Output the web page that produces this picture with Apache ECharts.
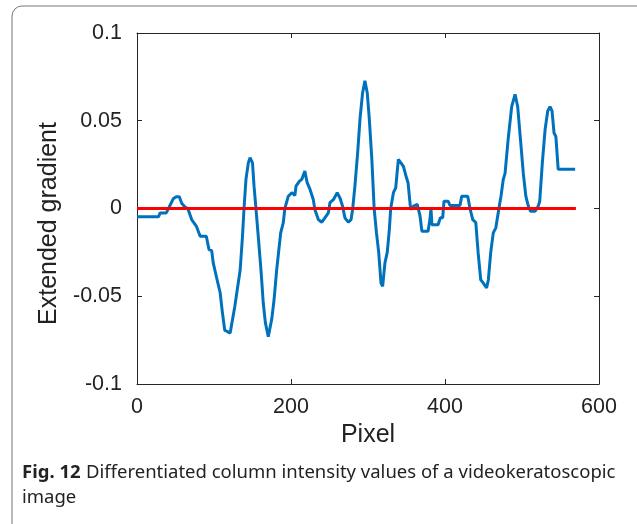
<!DOCTYPE html>
<html><head><meta charset="utf-8">
<script src="https://cdn.jsdelivr.net/npm/echarts@6/dist/echarts.min.js"></script>
<style>html,body{margin:0;padding:0;background:#fff}#c{width:637px;height:524px}</style>
</head><body><div id="c"></div>
<script>
const pixels = [0,10,20,28,30,38,42,47,51,55,58,62,66,71,77,82,90,93.5,97,99,104,108,111,114,117,121,127,134,137,139,141.5,144.6,146.8,150,152,154.5,157.5,161,164,166.7,170.5,175,178,181.4,186.6,190,192,196.5,201,205,206.5,211,214,218,221,224.7,229,231,235.5,240,244,248.5,250.6,255,260,263.6,267,270,274.4,278,280,283,286.6,289.6,293,296,299,301.7,305,308,311,313.9,316.9,319,322,325,327.7,329.5,333,336,339.4,341.6,346,350,352,355.4,359,364,367.5,370,374,378,380.5,381.8,383,384,391,394,397,398.7,404,406.5,412,419.5,421.7,429.5,432.5,436,440,443,446.4,449.8,454,456.3,459.4,462.7,466,470,472.7,475.7,478,482,486.6,491,494.4,498,501.7,505,508,511,517,521,523,526.4,530,533.4,536.4,539,541.6,544,547,558,569];
const gradient = [-0.0047,-0.0047,-0.0047,-0.0047,-0.0025,-0.0025,0.001,0.0055,0.0067,0.0067,0.003,0.001,0.0,-0.0063,-0.010,-0.0158,-0.0158,-0.0234,-0.024,-0.031,-0.0406,-0.048,-0.0596,-0.0695,-0.07,-0.071,-0.0558,-0.0349,-0.0158,0.0,0.0166,0.026,0.029,0.026,0.0127,0.0,-0.016,-0.035,-0.054,-0.065,-0.073,-0.063,-0.052,-0.035,-0.0139,-0.008,0.0,0.007,0.009,0.0074,0.0127,0.0156,0.0166,0.0213,0.0147,0.0109,0.005,-0.0006,-0.0063,-0.0078,-0.0053,-0.0025,0.0033,0.005,0.009,0.006,0.0013,-0.0053,-0.0078,-0.0063,-0.0006,0.0127,0.032,0.051,0.066,0.0727,0.066,0.051,0.028,0.0,-0.0139,-0.025,-0.0425,-0.0444,-0.031,-0.025,-0.012,0.0,0.009,0.0118,0.028,0.029,0.024,0.0175,0.0147,-0.0006,0.0013,0.0023,-0.004,-0.013,-0.013,-0.013,-0.006,0.0,-0.0092,-0.0092,-0.0092,-0.0053,-0.0053,0.0042,0.0042,0.0017,0.0017,0.0017,0.007,0.007,0.0,-0.0063,-0.008,-0.025,-0.0406,-0.0425,-0.0453,-0.0406,-0.025,-0.0139,-0.011,0.0,0.007,0.0166,0.020,0.0394,0.058,0.065,0.058,0.0394,0.020,0.007,0.0017,-0.0015,-0.0015,0.0013,0.004,0.026,0.045,0.0556,0.058,0.0556,0.043,0.041,0.0223,0.0223,0.0223];
const zeroLine = [[0,0],[570,0]];
const xTicks = [0,200,400,600];
const yTicks = [-0.1,-0.05,0,0.05,0.1];

const chart = echarts.init(document.getElementById('c'), null, {renderer:'canvas'});
const font = '"Liberation Sans", Arial, Helvetica, sans-serif';
const capFont = '"Noto Sans", sans-serif';
const fmtY = v => (v===0?'0':String(v));
const axisLine = {show:true,onZero:false,lineStyle:{color:'#262626',width:1}};
const axisTick = {inside:true,length:5,lineStyle:{color:'#262626'}};
chart.setOption({
  animation:false,
  backgroundColor:'#fff',
  graphic:[
    {type:'rect', shape:{x:12,y:6,width:640,height:530,r:10}, style:{fill:'none',stroke:'#777',lineWidth:1}, z:-1},
    {type:'text', left:22, top:463, style:{text:'Fig. 12', font:'bold 18.5px ' + capFont, fill:'#222'}},
    {type:'text', left:86, top:463, style:{text:'Differentiated column intensity values of a videokeratoscopic', font:'18.5px ' + capFont, fill:'#222'}},
    {type:'text', left:22, top:488, style:{text:'image', font:'18.5px ' + capFont, fill:'#222'}}
  ],
  grid:{left:137,right:38,top:33,bottom:140,containLabel:false},
  xAxis:[
    {type:'value',min:xTicks[0],max:xTicks[xTicks.length-1],interval:200,name:'Pixel',nameLocation:'middle',nameGap:38,
     nameTextStyle:{fontFamily:font,fontSize:25,color:'#222'},
     axisLine,axisTick,
     axisLabel:{fontFamily:font,fontSize:21.5,color:'#222',margin:12},splitLine:{show:false}},
    {type:'value',position:'top',min:0,max:600,interval:200,
     axisLine,axisTick,axisLabel:{show:false},splitLine:{show:false}}
  ],
  yAxis:[
    {type:'value',min:yTicks[0],max:yTicks[yTicks.length-1],interval:0.05,name:'Extended gradient',nameLocation:'middle',nameGap:65,
     nameTextStyle:{fontFamily:font,fontSize:25,color:'#222',padding:[0,30,0,0]},
     axisLine,axisTick,
     axisLabel:{fontFamily:font,fontSize:21.5,color:'#222',margin:15,formatter:fmtY},splitLine:{show:false}},
    {type:'value',position:'right',min:-0.1,max:0.1,interval:0.05,
     axisLine,axisTick,axisLabel:{show:false},splitLine:{show:false}}
  ],
  series:[
    {type:'line',data:pixels.map((x,i)=>[x,gradient[i]]),showSymbol:false,symbol:'none',
     lineStyle:{color:'#0072BD',width:3},z:2},
    {type:'line',data:zeroLine,showSymbol:false,symbol:'none',lineStyle:{color:'#FF0000',width:3},z:3}
  ]
});
</script></body></html>
